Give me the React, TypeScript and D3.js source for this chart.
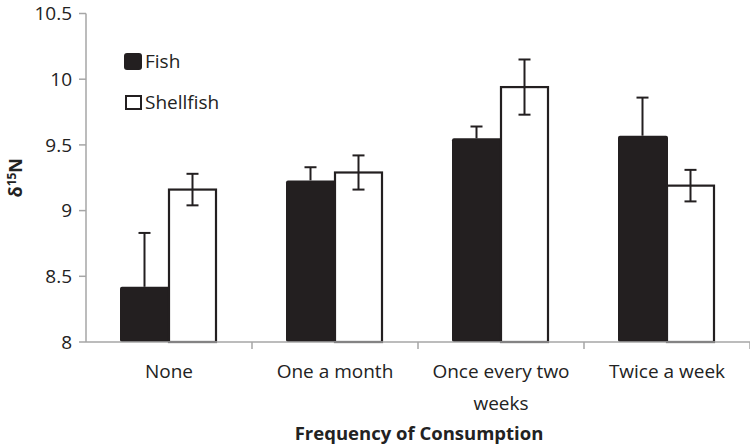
import React from "react";
import * as d3 from "d3";

const categories = ["None", "One a month", "Once every two weeks", "Twice a week"];
const categoryLines = [["None"], ["One a month"], ["Once every two", "weeks"], ["Twice a week"]];
const series = ["Fish", "Shellfish"];
const fishMeans = [8.42, 9.23, 9.55, 9.57];
const fishErr = [0.41, 0.1, 0.09, 0.29];
const shellMeans = [9.16, 9.29, 9.94, 9.19];
const shellErr = [0.12, 0.13, 0.21, 0.12];
const yTicks = [8, 8.5, 9, 9.5, 10, 10.5];

const W = 750, H = 446;
const margin = { left: 86, right: 0, top: 13.5, bottom: 104 };
const FONT = "'Open Sans', Lato, sans-serif";
const DARK = "#231f20";
const AXIS = "#a6a6a6";

export default function App() {
  const x = d3.scaleBand<string>().domain(categories).range([margin.left, W - margin.right]);
  const y = d3.scaleLinear().domain([8, 10.5]).range([H - margin.bottom, margin.top]);
  const barW = 49;
  const capW = 12;

  return (
    <svg width={W} height={H} style={{ position: "absolute", left: 0, top: 0, background: "#fff" }}>
      {/* y axis */}
      <line x1={margin.left} x2={margin.left} y1={y(10.5)} y2={y(8)} stroke={AXIS} strokeWidth={1.5} />
      {yTicks.map((t) => (
        <g key={t}>
          <line x1={margin.left - 7} x2={margin.left} y1={y(t)} y2={y(t)} stroke={AXIS} strokeWidth={1.5} />
          <text x={margin.left - 14} y={y(t)} dy="0.36em" textAnchor="end" fontFamily={FONT} fontSize={19} fill="#222">
            {d3.format("~g")(t)}
          </text>
        </g>
      ))}
      <text transform={`translate(22,${y(9.25)}) rotate(-90)`} textAnchor="middle" fontFamily={FONT} fontSize={18} fontWeight="bold" fill="#222">
        δ<tspan fontSize={12} dy="-6">15</tspan><tspan dy="6">N</tspan>
      </text>

      {/* bars */}
      {categories.map((c, i) => {
        const cx = (x(c) as number) + x.bandwidth() / 2;
        const fx = cx - barW;
        const sx = cx;
        const sw = barW - 2;
        return (
          <g key={c}>
            <line x1={cx - barW / 2} x2={cx - barW / 2} y1={y(fishMeans[i])} y2={y(fishMeans[i] + fishErr[i])} stroke={DARK} strokeWidth={2} />
            <line x1={cx - barW / 2 - capW / 2} x2={cx - barW / 2 + capW / 2} y1={y(fishMeans[i] + fishErr[i])} y2={y(fishMeans[i] + fishErr[i])} stroke={DARK} strokeWidth={2} />
            <rect x={fx} y={y(fishMeans[i])} width={barW + 1} height={y(8) - y(fishMeans[i])} fill={DARK} rx={2} />
            <rect x={sx} y={y(shellMeans[i])} width={sw} height={y(8) - y(shellMeans[i])} fill="#fff" stroke={DARK} strokeWidth={2.2} />
            <line x1={sx + sw / 2} x2={sx + sw / 2} y1={y(shellMeans[i] - shellErr[i])} y2={y(shellMeans[i] + shellErr[i])} stroke={DARK} strokeWidth={2} />
            <line x1={sx + sw / 2 - capW / 2} x2={sx + sw / 2 + capW / 2} y1={y(shellMeans[i] + shellErr[i])} y2={y(shellMeans[i] + shellErr[i])} stroke={DARK} strokeWidth={2} />
            <line x1={sx + sw / 2 - capW / 2} x2={sx + sw / 2 + capW / 2} y1={y(shellMeans[i] - shellErr[i])} y2={y(shellMeans[i] - shellErr[i])} stroke={DARK} strokeWidth={2} />
            <text textAnchor="middle" fontFamily={FONT} fontSize={19} fill="#222">
              {categoryLines[i].map((ln, k) => (
                <tspan key={k} x={cx} y={y(8) + 36 + k * 32}>{ln}</tspan>
              ))}
            </text>
          </g>
        );
      })}

      {/* x axis */}
      <line x1={margin.left} x2={W} y1={y(8)} y2={y(8)} stroke={AXIS} strokeWidth={1.5} />
      {categories.map((c) => (
        <line key={c} x1={(x(c) as number) + x.bandwidth()} x2={(x(c) as number) + x.bandwidth()} y1={y(8)} y2={y(8) + 7} stroke={AXIS} strokeWidth={1.5} />
      ))}
      <text x={(margin.left + W) / 2 + 1} y={440} textAnchor="middle" fontFamily={FONT} fontSize={18.5} fontWeight="bold" fill="#222">
        Frequency of Consumption
      </text>

      {/* legend */}
      <rect x={124} y={53} width={18} height={17} rx={3} fill={DARK} />
      <text x={145} y={61.5} dy="0.36em" fontFamily={FONT} fontSize={19} fill="#222">{series[0]}</text>
      <rect x={126} y={96} width={15} height={13} fill="#fff" stroke={DARK} strokeWidth={2} />
      <text x={145} y={102.5} dy="0.36em" fontFamily={FONT} fontSize={19} fill="#222">{series[1]}</text>
    </svg>
  );
}
